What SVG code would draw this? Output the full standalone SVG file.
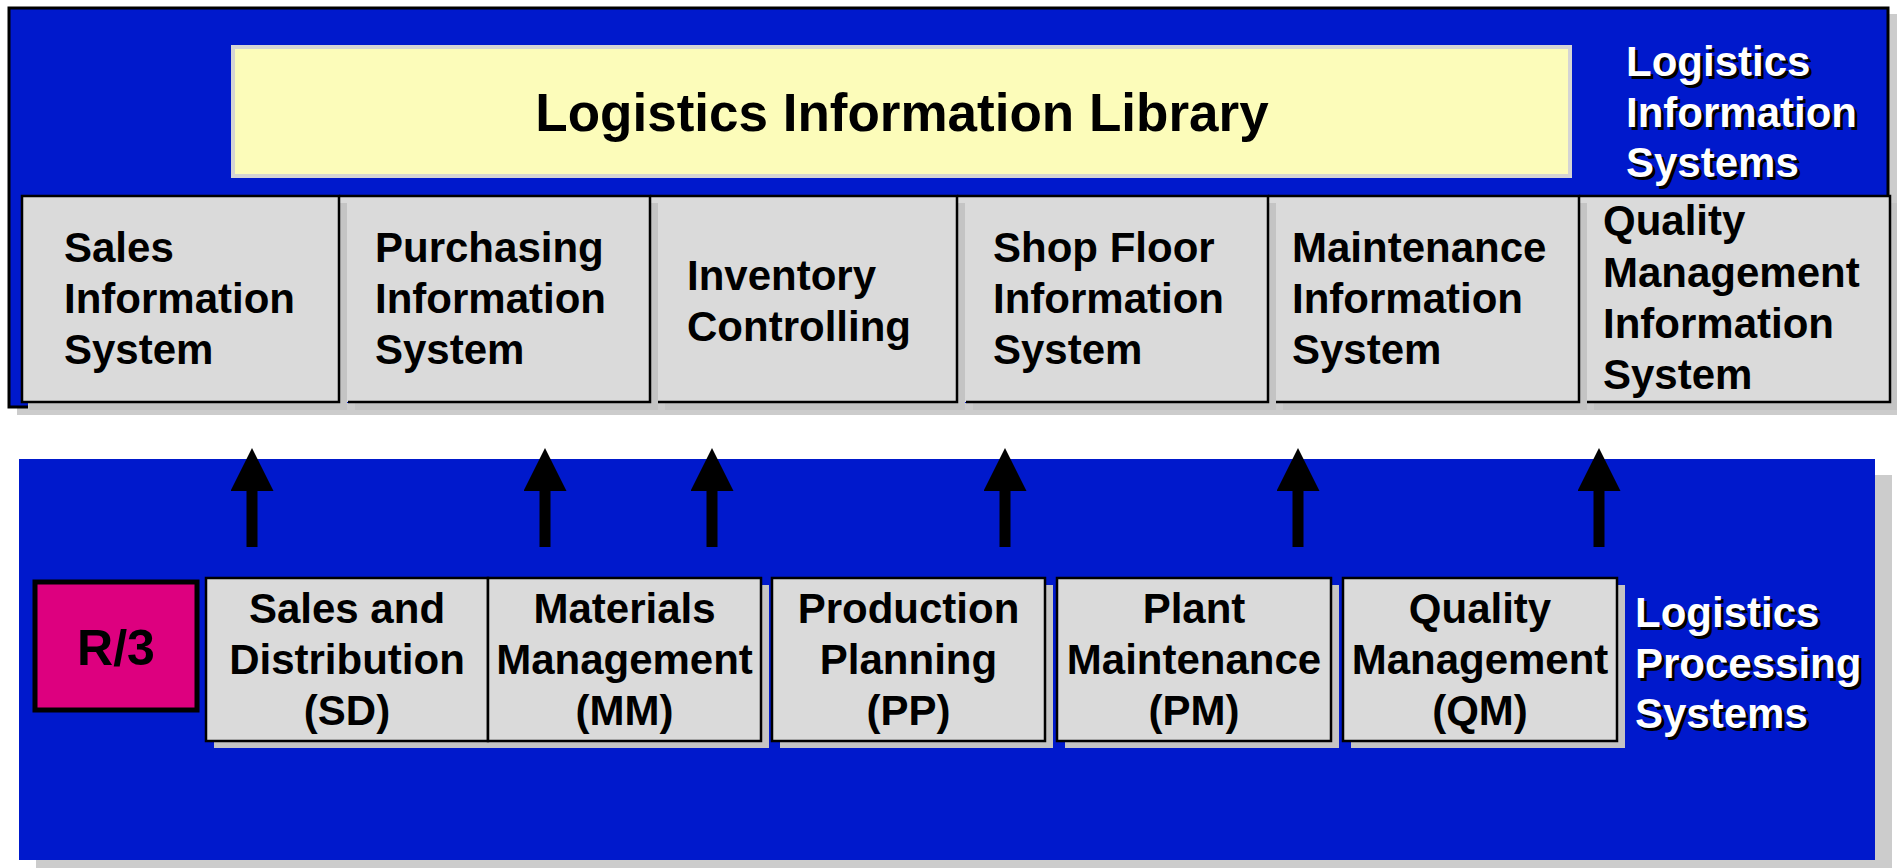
<svg xmlns="http://www.w3.org/2000/svg" width="1897" height="868" viewBox="0 0 1897 868">
<defs>
<style>
.bg{fill:#ffffff}
.blue{fill:#0019CC}
.pshadow{fill:#CCCCCC}
.shadow{fill:#C4C4C4}
.box{fill:#DADADA}
.edge{fill:none;stroke:#000000;stroke-width:2.5}
.lib{fill:#FCFCBA;stroke:#D4D4D4;stroke-width:4}
.t{font-family:"Liberation Sans",Arial,Helvetica,sans-serif;font-weight:bold;font-size:42px;fill:#000000}
.c{text-anchor:middle}
.big{font-size:53px}
.w{fill:#ffffff}
.k{fill:#000000}
.r3{fill:#DD007F;stroke:#000000;stroke-width:5}
.conn{stroke:#000000;stroke-width:11;fill:none}
</style>
<marker id="ah" viewBox="0 0 43 43" markerUnits="userSpaceOnUse" markerWidth="43" markerHeight="43" refX="3" refY="21.5" orient="auto">
<path d="M0,0 L43,21.5 L0,43 Z" fill="#000000"/>
</marker>
</defs>
<rect class="bg" x="0" y="0" width="1897" height="868"/>

<g id="upper-panel">
<rect class="pshadow" x="17" y="14" width="1880" height="401"/>
<rect class="blue" x="9" y="8" width="1879" height="399" stroke="#000" stroke-width="3"/>
<rect class="pshadow" x="28" y="403" width="1869" height="12"/>
<g id="lil">
<rect class="lib" x="233" y="47" width="1337" height="129"/>
<text class="t c big" x="902" y="131">Logistics Information Library</text>
</g>
<g id="lis-label">
<text class="t k" x="1629" y="79">Logistics</text>
<text class="t k" x="1629" y="130">Information</text>
<text class="t k" x="1629" y="180">Systems</text>
<text class="t w" x="1626" y="76">Logistics</text>
<text class="t w" x="1626" y="127">Information</text>
<text class="t w" x="1626" y="177">Systems</text>
</g>
<rect class="box" x="22" y="196" width="1868" height="206"/>
</g>

<g id="sis">
<rect class="shadow" x="29" y="203" width="318" height="207"/>
<rect class="box" x="22" y="196" width="317" height="206"/>
<path class="edge" d="M22,196 H339 V402 H22 Z"/>
<text class="t" x="64" y="262">Sales</text>
<text class="t" x="64" y="313">Information</text>
<text class="t" x="64" y="364">System</text>
</g>
<g id="pis">
<rect class="shadow" x="355" y="203" width="303" height="207"/>
<rect class="box" x="348" y="196" width="302" height="206"/>
<path class="edge" d="M339,196 H650 V402 H348"/>
<text class="t" x="375" y="262">Purchasing</text>
<text class="t" x="375" y="313">Information</text>
<text class="t" x="375" y="364">System</text>
</g>
<g id="ic">
<rect class="shadow" x="665" y="203" width="300" height="207"/>
<rect class="box" x="658" y="196" width="299" height="206"/>
<path class="edge" d="M650,196 H957 V402 H658"/>
<text class="t" x="687" y="290">Inventory</text>
<text class="t" x="687" y="341">Controlling</text>
</g>
<g id="sfis">
<rect class="shadow" x="973" y="203" width="303" height="207"/>
<rect class="box" x="966" y="196" width="302" height="206"/>
<path class="edge" d="M957,196 H1268 V402 H966"/>
<text class="t" x="993" y="262">Shop Floor</text>
<text class="t" x="993" y="313">Information</text>
<text class="t" x="993" y="364">System</text>
</g>
<g id="mis">
<rect class="shadow" x="1283" y="203" width="304" height="207"/>
<rect class="box" x="1276" y="196" width="303" height="206"/>
<path class="edge" d="M1268,196 H1579 V402 H1276"/>
<text class="t" x="1292" y="262">Maintenance</text>
<text class="t" x="1292" y="313">Information</text>
<text class="t" x="1292" y="364">System</text>
</g>
<g id="qmis">
<rect class="shadow" x="1594" y="203" width="303" height="207"/>
<rect class="box" x="1587" y="196" width="303" height="206"/>
<path class="edge" d="M1579,196 H1890 V402 H1587"/>
<text class="t" x="1603" y="235">Quality</text>
<text class="t" x="1603" y="287">Management</text>
<text class="t" x="1603" y="338">Information</text>
<text class="t" x="1603" y="389">System</text>
</g>

<g id="lower-panel">
<rect class="pshadow" x="36" y="475" width="1856" height="393"/>
<rect class="blue" x="19" y="459" width="1856" height="401"/>
<g id="lps-label">
<text class="t k" x="1638" y="630">Logistics</text>
<text class="t k" x="1638" y="681">Processing</text>
<text class="t k" x="1638" y="731">Systems</text>
<text class="t w" x="1635" y="627">Logistics</text>
<text class="t w" x="1635" y="678">Processing</text>
<text class="t w" x="1635" y="728">Systems</text>
</g>
</g>

<g id="connectors">
<line class="conn" x1="252" y1="547" x2="252" y2="488" marker-end="url(#ah)"/>
<line class="conn" x1="545" y1="547" x2="545" y2="488" marker-end="url(#ah)"/>
<line class="conn" x1="712" y1="547" x2="712" y2="488" marker-end="url(#ah)"/>
<line class="conn" x1="1005" y1="547" x2="1005" y2="488" marker-end="url(#ah)"/>
<line class="conn" x1="1298" y1="547" x2="1298" y2="488" marker-end="url(#ah)"/>
<line class="conn" x1="1599" y1="547" x2="1599" y2="488" marker-end="url(#ah)"/>
</g>

<g id="r3">
<rect class="r3" x="35" y="582" width="162" height="128"/>
<text class="t c" x="116" y="665" style="font-size:50px">R/3</text>
</g>

<g id="sd">
<rect class="shadow" x="214" y="585" width="282" height="163"/>
<rect class="box" x="206" y="578" width="282" height="163"/>
<path class="edge" d="M206,578 H488 V741 H206 Z"/>
<text class="t c" x="347" y="623">Sales and</text>
<text class="t c" x="347" y="674">Distribution</text>
<text class="t c" x="347" y="725">(SD)</text>
</g>
<g id="mm">
<rect class="shadow" x="496" y="585" width="273" height="163"/>
<rect class="box" x="488" y="578" width="273" height="163"/>
<path class="edge" d="M488,578 H761 V741 H488 Z"/>
<text class="t c" x="624.5" y="623">Materials</text>
<text class="t c" x="624.5" y="674">Management</text>
<text class="t c" x="624.5" y="725">(MM)</text>
</g>
<g id="pp">
<rect class="shadow" x="780" y="585" width="273" height="163"/>
<rect class="box" x="772" y="578" width="273" height="163"/>
<path class="edge" d="M772,578 H1045 V741 H772 Z"/>
<text class="t c" x="908.5" y="623">Production</text>
<text class="t c" x="908.5" y="674">Planning</text>
<text class="t c" x="908.5" y="725">(PP)</text>
</g>
<g id="pm">
<rect class="shadow" x="1065" y="585" width="274" height="163"/>
<rect class="box" x="1057" y="578" width="274" height="163"/>
<path class="edge" d="M1057,578 H1331 V741 H1057 Z"/>
<text class="t c" x="1194" y="623">Plant</text>
<text class="t c" x="1194" y="674">Maintenance</text>
<text class="t c" x="1194" y="725">(PM)</text>
</g>
<g id="qm">
<rect class="shadow" x="1351" y="585" width="274" height="163"/>
<rect class="box" x="1343" y="578" width="274" height="163"/>
<path class="edge" d="M1343,578 H1617 V741 H1343 Z"/>
<text class="t c" x="1480" y="623">Quality</text>
<text class="t c" x="1480" y="674">Management</text>
<text class="t c" x="1480" y="725">(QM)</text>
</g>
</svg>
